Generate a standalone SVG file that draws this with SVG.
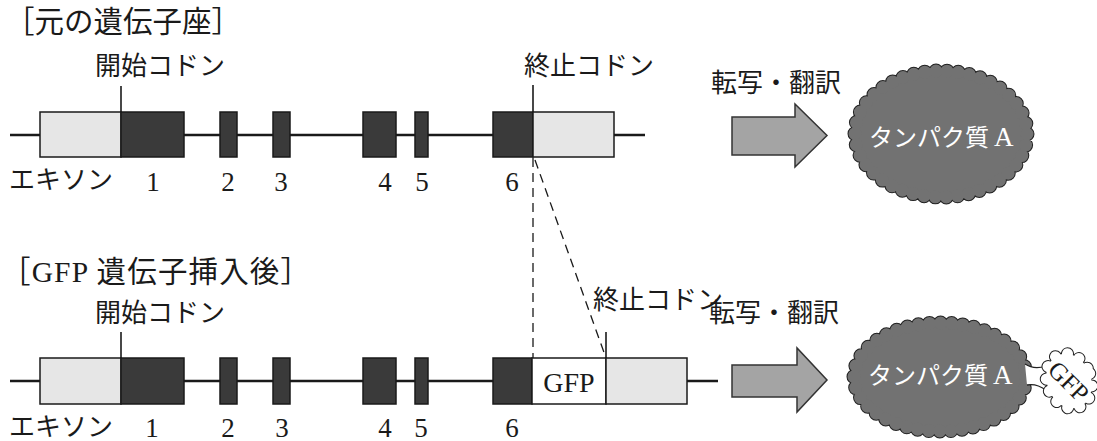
<svg xmlns="http://www.w3.org/2000/svg" width="1097" height="441" viewBox="0 0 1097 441">
<style>
text{font-family:"Liberation Serif","Noto Sans CJK JP",serif;fill:#1a1a1a}
.t{font-size:29.5px}
.l{font-size:26px}
.n{font-size:27px;text-anchor:middle}
.w{fill:#fff;font-size:24px}
.ln{stroke:#1a1a1a;stroke-width:2.5;fill:none}
.tick{stroke:#1a1a1a;stroke-width:1.6}
.dk{fill:#3a3a3a;stroke:#1a1a1a;stroke-width:1.5}
.lt{fill:#e6e6e6;stroke:#1a1a1a;stroke-width:1.5}
.wh{fill:#fff;stroke:#1a1a1a;stroke-width:1.5}
.dash{stroke:#1a1a1a;stroke-width:1.3;stroke-dasharray:9 6;fill:none}
.arr{fill:#a4a4a4;stroke:#333;stroke-width:1.5}
.bo{fill:none;stroke:#222;stroke-linecap:round}
.bi{stroke-linecap:round}
</style>

<g id="title1"><text class="t" x="5" y="32" font-size="27.5">［元の遺伝子座］</text></g>

<g id="gene1">
<line class="ln" x1="10" y1="135" x2="645" y2="135"/>
<rect class="lt" x="40" y="112" width="81" height="45"/>
<rect class="dk" x="121" y="112" width="63" height="45"/>
<rect class="dk" x="220" y="112" width="17" height="45"/>
<rect class="dk" x="273" y="112" width="17" height="45"/>
<rect class="dk" x="363" y="112" width="33" height="45"/>
<rect class="dk" x="415" y="112" width="13" height="45"/>
<rect class="dk" x="493" y="112" width="40" height="45"/>
<rect class="lt" x="533" y="112" width="81" height="45"/>
<line class="tick" x1="121" y1="86" x2="121" y2="112"/>
<line class="tick" x1="533" y1="85" x2="533" y2="112"/>
<text class="l" x="95" y="75">開始コドン</text>
<text class="l" x="524" y="75">終止コドン</text>
<text class="l" x="9" y="189" font-size="25">エキソン</text>
<text class="n" x="153" y="191">1</text>
<text class="n" x="228" y="191">2</text>
<text class="n" x="281" y="191">3</text>
<text class="n" x="385" y="191">4</text>
<text class="n" x="422" y="191">5</text>
<text class="n" x="512" y="191">6</text>
</g>

<g id="title2"><text class="t" x="1" y="282" textLength="309" lengthAdjust="spacing">［GFP 遺伝子挿入後］</text></g>

<g id="gene2">
<line class="ln" x1="10" y1="381" x2="718" y2="381"/>
<rect class="lt" x="40" y="358" width="81" height="46"/>
<rect class="dk" x="121" y="358" width="63" height="46"/>
<rect class="dk" x="220" y="358" width="17" height="46"/>
<rect class="dk" x="273" y="358" width="17" height="46"/>
<rect class="dk" x="363" y="358" width="33" height="46"/>
<rect class="dk" x="415" y="358" width="13" height="46"/>
<rect class="dk" x="493" y="358" width="39" height="46"/>
<rect class="wh" x="532" y="358" width="74" height="46"/>
<rect class="lt" x="606" y="358" width="81" height="46"/>
<text x="569" y="392" font-size="28" text-anchor="middle">GFP</text>
<line class="tick" x1="121" y1="332" x2="121" y2="358"/>
<line class="tick" x1="606" y1="332" x2="606" y2="358"/>
<text class="l" x="95" y="322">開始コドン</text>
<text class="l" x="593" y="309" font-size="25">終止コドン</text>
<text class="l" x="9" y="436" font-size="25">エキソン</text>
<text class="n" x="152" y="437">1</text>
<text class="n" x="228" y="437">2</text>
<text class="n" x="282" y="437">3</text>
<text class="n" x="385" y="437">4</text>
<text class="n" x="421" y="437">5</text>
<text class="n" x="512" y="437">6</text>
</g>

<g id="connectors">
<line class="dash" x1="533" y1="158" x2="533" y2="358"/>
<line class="dash" x1="535" y1="160" x2="606" y2="358"/>
<polygon class="arr" points="732,117 795,117 795,104 827,135.5 795,167 795,155 732,155"/>
<polygon class="arr" points="732,365 797,365 797,348 827,380 797,412 797,397 732,397"/>
</g>

<g id="label-top"><text class="l" x="711" y="92">転写・翻訳</text></g>
<g id="label-bottom"><text class="l" x="709" y="322">転写・翻訳</text></g>

<g id="protein1">
<ellipse class="bo" cx="941" cy="134" rx="86" ry="63" stroke-width="15" stroke-dasharray="0 11.21"/>
<ellipse class="bi" cx="941" cy="134" rx="86" ry="63" fill="#727272" stroke="#727272" stroke-width="13" stroke-dasharray="0 11.21"/>
<text class="w" x="869" y="146">タンパク質<tspan x="994" font-size="27">A</tspan></text>
</g>

<g id="protein2">
<ellipse class="bo" cx="940" cy="377" rx="86" ry="54" stroke-width="15" stroke-dasharray="0 11.14"/>
<ellipse class="bi" cx="940" cy="377" rx="86" ry="54" fill="#727272" stroke="#727272" stroke-width="13" stroke-dasharray="0 11.14"/>
<text class="w" x="868" y="384">タンパク質<tspan x="993" font-size="27">A</tspan></text>
</g>

<g id="gfp-tag">
<path d="M1025,364 Q1034,370 1046,366 L1046,390 Q1036,383 1027,385 Z" fill="#fff"/>
<path d="M1025,364 Q1034,370 1046,366 M1027,385 Q1036,383 1046,390" fill="none" stroke="#222" stroke-width="1.3"/>
<ellipse class="bo" cx="1069" cy="381" rx="22" ry="28" transform="rotate(-20 1069 381)" stroke-width="13" stroke-dasharray="0 12.6"/>
<ellipse class="bi" cx="1069" cy="381" rx="22" ry="28" transform="rotate(-20 1069 381)" fill="#fff" stroke="#fff" stroke-width="11" stroke-dasharray="0 12.6"/>
<text x="1069" y="390" font-size="25" text-anchor="middle" transform="rotate(45 1069 381)">GFP</text>
</g>
</svg>
